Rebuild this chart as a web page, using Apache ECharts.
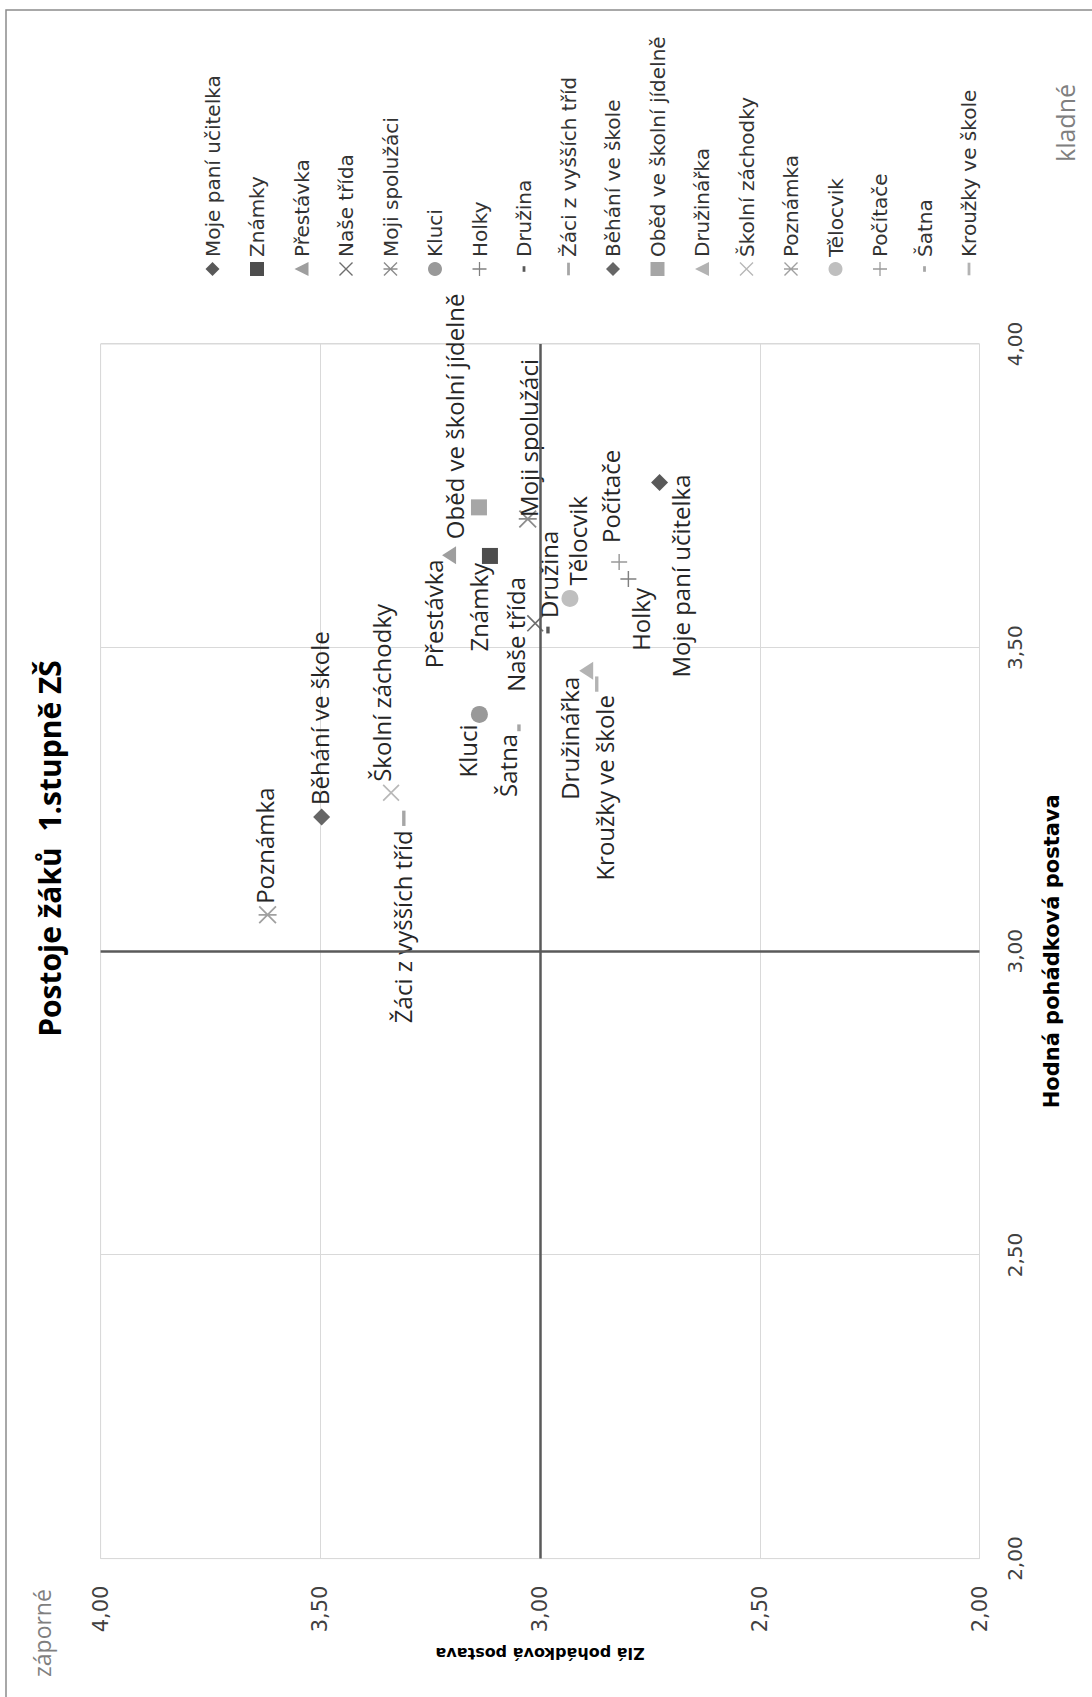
<!DOCTYPE html>
<html><head><meta charset="utf-8">
<script src="https://cdn.jsdelivr.net/npm/echarts@6/dist/echarts.min.js"></script>
<style>
html,body{margin:0;padding:0;background:#fff;overflow:hidden;width:1092px;height:1697px;}
#chart{position:absolute;left:0;top:0;width:1697px;height:1092px;transform-origin:0 0;transform:translate(0px,1697px) rotate(-90deg);}
</style></head><body><div id="chart"></div>
<script>
// ---- data ----
const categories = ['Moje paní učitelka','Známky','Přestávka','Naše třída','Moji spolužáci','Kluci','Holky','Družina','Žáci z vyšších tříd','Běhání ve škole','Oběd ve školní jídelně','Družinářka','Školní záchodky','Poznámka','Tělocvik','Počítače','Šatna','Kroužky ve škole'];
const hodnaValues = [3.772,3.651,3.652,3.540,3.712,3.390,3.613,3.529,3.219,3.221,3.731,3.462,3.261,3.060,3.581,3.641,3.368,3.440];
const zlaValues   = [2.728,3.114,3.207,3.011,3.028,3.138,2.799,2.982,3.310,3.497,3.139,2.895,3.339,3.620,2.932,2.820,3.048,2.871];
const tickLabels = ['2,00','2,50','3,00','3,50','4,00'];
const axisNames = { x: 'Hodná pohádková postava', y: 'Zlá pohádková postava' };
const titleText = 'Postoje žáků  1.stupně ZŠ';
const cornerTexts = { neg: 'záporné', pos: 'kladné' };

// ---- styles ----
const X = 'M0,0.7 L0.7,0 L10,9.3 L9.3,10 Z M9.3,0 L10,0.7 L0.7,10 L0,9.3 Z';
const SYM = {
  diamond: 'diamond', rect: 'rect', triangle: 'triangle', circle: 'circle',
  x: 'path://M0,0 M10,10 ' + X,
  star: 'path://M0,0 M10,10 ' + X + ' M4.55,0 L5.45,0 L5.45,10 L4.55,10 Z',
  plus: 'path://M0,0 M10,10 M4.55,0 L5.45,0 L5.45,10 L4.55,10 Z M0,4.55 L10,4.55 L10,5.45 L0,5.45 Z',
  dash: 'path://M0,0 M10,10 M3,4 L7,4 L7,6 L3,6 Z',
  longdash: 'path://M0,0 M10,10 M0.5,4 L9.5,4 L9.5,6 L0.5,6 Z'
};
const seriesSymbols = ['diamond','rect','triangle','x','star','circle','plus','dash','longdash','diamond','rect','triangle','x','star','circle','plus','dash','longdash'];
const seriesColors = ['#595959','#4d4d4d','#9e9e9e','#6e6e6e','#8c8c8c','#999999','#808080','#595959','#a6a6a6','#666666','#a6a6a6','#b3b3b3','#b8b8b8','#a0a0a0','#bfbfbf','#999999','#a6a6a6','#b3b3b3'];
const symbolSizes = {diamond:17, rect:16, triangle:[18,14], circle:17, x:17, star:18, plus:16, dash:17, longdash:17};
// label placement: [align, dx, dy] relative to marker centre
const labelPlace = [
  ['right', 8, 21], ['right', -7, -11], ['right', -4, -16], ['center', -11, -20],
  ['left', 2, 1], ['right', -10, -12], ['right', -9, 12], ['left', 12, 1],
  ['right', -12, -1], ['left', 12, -2], ['center', 91, -24], ['right', -6, -17],
  ['left', 11, -10], ['left', 11, -3], ['left', 13, 8], ['left', 19, -9],
  ['right', -6, -11], ['right', -11, 8]
];

const chart = echarts.init(document.getElementById('chart'), null, {renderer: 'svg'});

const series = categories.map((name, i) => {
  const s = seriesSymbols[i];
  const lp = labelPlace[i];
  return {
    type: 'scatter',
    name: name,
    z: 3,
    symbol: SYM[s],
    symbolSize: symbolSizes[s],
    itemStyle: { color: seriesColors[i], opacity: 1 },
    label: {
      show: true, position: 'inside', formatter: '{a}',
      align: lp[0], verticalAlign: 'middle', offset: [lp[1], lp[2]],
      fontFamily: 'Open Sans', fontSize: 24, color: '#262626'
    },
    emphasis: { disabled: true },
    data: [[hodnaValues[i], zlaValues[i]]]
  };
});
series.push({
  type: 'line', name: '', data: [], z: 2, silent: true,
  markLine: {
    silent: true, symbol: 'none', label: { show: false },
    lineStyle: { color: '#5a5a5a', width: 2.5, type: 'solid' },
    emphasis: { disabled: true },
    data: [{ xAxis: 3 }, { yAxis: 3 }]
  }
});

const tickFmt = v => tickLabels[Math.round((v - 2) / 0.5)];

chart.setOption({
  backgroundColor: '#ffffff',
  animation: false,
  title: {
    text: titleText, left: 'center', top: 29, padding: [5, 32, 5, 10],
    textStyle: { fontFamily: 'Open Sans', fontWeight: 'bold', fontSize: 30, color: '#000000' }
  },
  grid: { left: 138.4, right: 344, top: 100.6, bottom: 112.5, show: true, borderColor: '#d9d9d9', borderWidth: 1, containLabel: false },
  legend: {
    orient: 'vertical', left: 1416, top: 195.5,
    itemWidth: 14, itemHeight: 14, itemGap: 20.5, selectedMode: false,
    textStyle: { fontFamily: 'DejaVu Sans', fontSize: 20, color: '#333333', lineHeight: 24 },
    data: categories
  },
  xAxis: {
    type: 'value', min: 2, max: 4, interval: 0.5,
    axisLine: { show: false }, axisTick: { show: false },
    splitLine: { show: true, lineStyle: { color: '#d9d9d9', width: 1 } },
    axisLabel: { margin: 25, fontFamily: 'DejaVu Sans', fontSize: 20, color: '#404040', formatter: tickFmt },
    name: axisNames.x, nameLocation: 'middle', nameGap: 62,
    nameTextStyle: { fontFamily: 'DejaVu Sans', fontWeight: 'bold', fontSize: 21, color: '#000000' }
  },
  yAxis: {
    type: 'value', min: 2, max: 4, interval: 0.5,
    axisLine: { show: false }, axisTick: { show: false },
    splitLine: { show: true, lineStyle: { color: '#d9d9d9', width: 1 } },
    axisLabel: { margin: 27, fontFamily: 'DejaVu Sans', fontSize: 21, color: '#404040', formatter: tickFmt },
    name: axisNames.y, nameLocation: 'middle', nameGap: 87, nameRotate: 90,
    nameTextStyle: { fontFamily: 'DejaVu Sans', fontWeight: 'bold', fontSize: 16, color: '#000000' }
  },
  graphic: [
    { type: 'rect', silent: true, z: -10, shape: { x: -20, y: 6, width: 1707, height: 1200 },
      style: { fill: 'none', stroke: '#8c8c8c', lineWidth: 1.5 } },
    { type: 'text', silent: true, x: 20, y: 41.5,
      style: { text: cornerTexts.neg, fontFamily: 'Open Sans', fontSize: 23, fill: '#7f7f7f', align: 'left', verticalAlign: 'middle' } },
    { type: 'text', silent: true, x: 1535, y: 1065,
      style: { text: cornerTexts.pos, fontFamily: 'Open Sans', fontSize: 25, fill: '#7f7f7f', align: 'left', verticalAlign: 'middle' } }
  ],
  series: series
});
</script></body></html>
